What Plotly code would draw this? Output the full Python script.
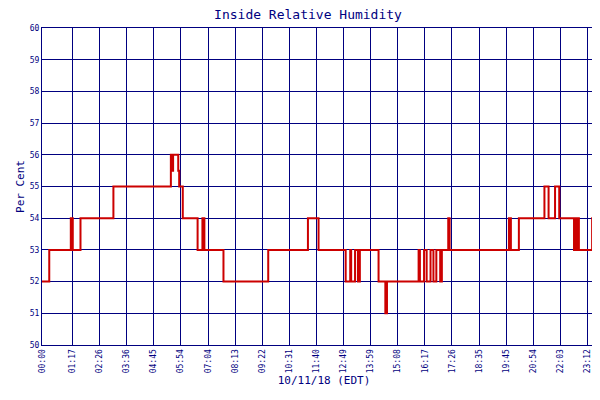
import plotly.graph_objects as go

times = [0, 18.5, 73.5, 78.5, 98.2, 182.2, 328.8, 332, 334.5, 347.6, 350, 359.2, 397, 409.3, 414.3, 463,
         577.2, 678.5, 705.6, 774.8, 786.4, 788.8, 798.7, 806.1, 811, 858.7, 876, 880.2, 960.9, 964.2,
         974.8, 981.4, 991.3, 998.7, 1006.1, 1016, 1020.2, 1036.5, 1040, 1191.3, 1196.3, 1216.7, 1281.9,
         1292.5, 1309, 1319.7, 1357.4, 1361, 1363, 1367.3, 1369.8, 1403.6, 1439]
humidity = [52, 53, 54, 53, 54, 55, 56, 55.5, 56, 55.5, 55, 54, 53, 54, 53, 52,
            53, 54, 53, 52, 53, 52, 53, 52, 53, 52, 51, 52, 53, 52,
            53, 52, 53, 52, 53, 52, 53, 54, 53, 54, 53, 54, 55,
            54, 55, 54, 53, 54, 53, 54, 53, 54, 54]
tick_minutes = [0, 77, 146, 216, 285, 354, 424, 493, 562, 631, 700, 769, 839, 908, 977, 1046, 1115,
                1185, 1254, 1323, 1392, 1439]
tick_labels = ["00:00", "01:17", "02:26", "03:36", "04:45", "05:54", "07:04", "08:13", "09:22", "10:31",
               "11:40", "12:49", "13:59", "15:08", "16:17", "17:26", "18:35", "19:45", "20:54", "22:03",
               "23:12", "23:59"]

navy = "#000080"
font = "DejaVu Sans Mono"
fig = go.Figure(go.Scatter(x=times, y=humidity, mode="lines", line=dict(color="#cc0000", width=2, shape="hv"),
                           name="Relative Humidity"))
fig.update_layout(
    width=600, height=400, margin=dict(l=34, r=2, t=20, b=63, autoexpand=False),
    paper_bgcolor="white", plot_bgcolor="white",
    title=dict(text="Inside Relative Humidity", x=0.5, y=0.995, xanchor="center", yanchor="top",
               font=dict(family=font, size=13, color=navy)),
    font=dict(family=font, color=navy),
    showlegend=True,
    legend=dict(orientation="h", x=0.5, xanchor="center", y=-0.29, yanchor="top",
                font=dict(size=8, color=navy), bgcolor="rgba(0,0,0,0)"),
    xaxis=dict(range=[0, 1439], tickvals=tick_minutes, ticktext=tick_labels, tickangle=-90, automargin=False,
               tickfont=dict(size=8, color=navy), showgrid=True, gridcolor=navy, gridwidth=1.3,
               showline=True, linecolor=navy, mirror=True, linewidth=1, zeroline=False,
               title=dict(text="10/11/18 (EDT)", font=dict(size=11, color=navy), standoff=4)),
    yaxis=dict(range=[50, 60], dtick=1, tickfont=dict(size=8, color=navy), showgrid=True, gridcolor=navy,
               gridwidth=1.3, showline=True, linecolor=navy, mirror=True, linewidth=1, zeroline=False,
               automargin=False,
               title=dict(text="Per Cent", font=dict(size=11, color=navy), standoff=2)),
)
fig.write_html("out.html")
